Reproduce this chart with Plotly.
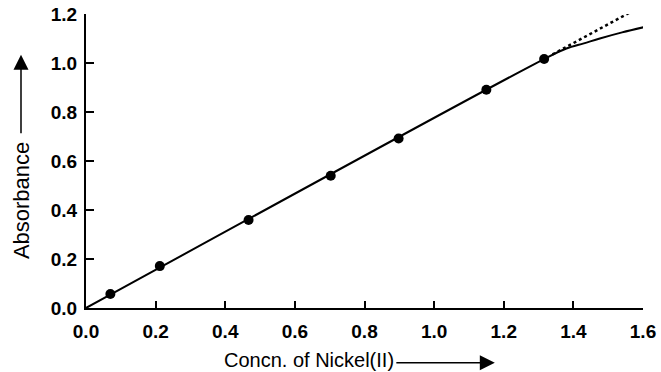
import plotly.graph_objects as go

# Measured data points
conc = [0.070, 0.212, 0.467, 0.703, 0.898, 1.150, 1.316]
absorb = [0.057, 0.171, 0.359, 0.540, 0.692, 0.891, 1.016]

# Calibration curve (solid)
curve_x = [0.0, 1.316, 1.38, 1.43, 1.476, 1.54, 1.611]
curve_y = [0.0, 1.016, 1.059, 1.080, 1.100, 1.125, 1.149]

# Linear extrapolation (dotted)
ext_x = [1.34, 1.562]
ext_y = [1.035, 1.206]

x_ticks = [0.0, 0.2, 0.4, 0.6, 0.8, 1.0, 1.2, 1.4, 1.6]
y_ticks = [0.0, 0.2, 0.4, 0.6, 0.8, 1.0, 1.2]

FONT = "Liberation Sans, Arial, sans-serif"

fig = go.Figure()
fig.add_trace(go.Scatter(x=curve_x, y=curve_y, mode="lines", line_shape="spline",
                         line=dict(color="black", width=2), hoverinfo="skip"))
fig.add_trace(go.Scatter(x=ext_x, y=ext_y, mode="lines",
                         line=dict(color="black", width=2.5, dash="3px,3px"), hoverinfo="skip"))
fig.add_trace(go.Scatter(x=conc, y=absorb, mode="markers",
                         marker=dict(color="black", size=10)))

fig.update_layout(
    width=661, height=372,
    margin=dict(l=86, r=18, t=14, b=64),
    paper_bgcolor="white", plot_bgcolor="white",
    showlegend=False,
    font=dict(family=FONT, color="black"),
    xaxis=dict(range=[0, 1.6], tickvals=x_ticks, ticktext=[f"{v:.1f}" for v in x_ticks],
               showgrid=False, zeroline=False, showline=True, linecolor="black", linewidth=2,
               ticks="inside", ticklen=7, tickwidth=1.5, tickcolor="black", automargin=False,
               ticklabeloverflow="allow",
               tickfont=dict(size=19, family=FONT, weight="bold"), ticklabelstandoff=5),
    yaxis=dict(range=[0, 1.2], tickvals=y_ticks, ticktext=[f"{v:.1f}" for v in y_ticks],
               showgrid=False, zeroline=False, showline=True, linecolor="black", linewidth=2,
               ticks="inside", ticklen=8, tickwidth=1.5, tickcolor="black", automargin=False,
               ticklabeloverflow="allow",
               tickfont=dict(size=19, family=FONT, weight="bold"), ticklabelstandoff=3),
)

# Axis labels
fig.add_annotation(text="Concn. of Nickel(II)", xref="paper", yref="paper",
                   x=0.400, y=-0.178, xanchor="center", yanchor="middle", showarrow=False,
                   font=dict(size=20, family=FONT, color="black"))
fig.add_annotation(text="Absorbance", xref="paper", yref="paper",
                   x=-0.1167, y=0.367, xanchor="center", yanchor="middle",
                   showarrow=False, textangle=-90,
                   font=dict(size=22, family=FONT, color="black"))
# Arrows
fig.add_annotation(text="", xref="paper", yref="paper", x=0.734, y=-0.186,
                   ax=-100, ay=0, showarrow=True, arrowhead=2, arrowsize=2,
                   arrowwidth=1.5, arrowcolor="black")
fig.add_annotation(text="", xref="paper", yref="paper", x=-0.1167, y=0.861,
                   ax=0, ay=80, showarrow=True, arrowhead=2, arrowsize=2,
                   arrowwidth=1.5, arrowcolor="black")

fig.write_html("out.html", config={"displayModeBar": False},
               post_script="document.body.style.margin='0';")
